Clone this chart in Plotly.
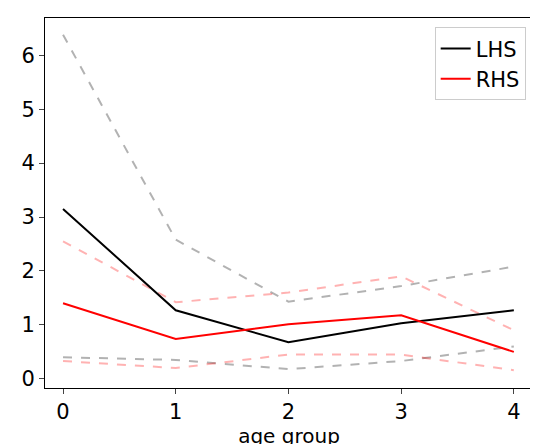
import plotly.graph_objects as go

age_group = [0, 1, 2, 3, 4]
lhs = [3.15, 1.27, 0.68, 1.03, 1.27]
lhs_upper = [6.38, 2.58, 1.43, 1.72, 2.08]
lhs_lower = [0.40, 0.35, 0.18, 0.33, 0.60]
rhs = [1.40, 0.74, 1.01, 1.18, 0.50]
rhs_upper = [2.55, 1.42, 1.60, 1.90, 0.90]
rhs_lower = [0.33, 0.20, 0.45, 0.45, 0.16]

fig = go.Figure()
for y in (lhs_upper, lhs_lower):
    fig.add_trace(go.Scatter(x=age_group, y=y, mode='lines', showlegend=False,
                             line=dict(color='rgba(0,0,0,0.3)', dash='dash', width=2)))
for y in (rhs_upper, rhs_lower):
    fig.add_trace(go.Scatter(x=age_group, y=y, mode='lines', showlegend=False,
                             line=dict(color='rgba(255,0,0,0.3)', dash='dash', width=2)))
fig.add_trace(go.Scatter(x=age_group, y=lhs, mode='lines', name='LHS',
                         line=dict(color='black', width=2)))
fig.add_trace(go.Scatter(x=age_group, y=rhs, mode='lines', name='RHS',
                         line=dict(color='red', width=2)))

axis = dict(showgrid=False, zeroline=False, showline=True, mirror=True,
            linecolor='black', linewidth=1, ticks='outside', ticklen=5,
            tickfont=dict(size=21, color='black'))
fig.update_layout(
    width=538, height=444, plot_bgcolor='white', paper_bgcolor='white',
    margin=dict(l=37, r=13, t=10, b=64),
    font=dict(family='DejaVu Sans', color='black'),
    xaxis=dict(axis, range=[-0.16, 4.17], tickvals=age_group,
               title=dict(text='age group', font=dict(size=20), standoff=4)),
    yaxis=dict(axis, range=[-0.17, 6.69], tickvals=[0, 1, 2, 3, 4, 5, 6]),
    legend=dict(x=0.985, y=0.975, xanchor='right', yanchor='top',
                bordercolor='#cccccc', borderwidth=1, font=dict(size=21)),
)
fig.write_html("out.html")
